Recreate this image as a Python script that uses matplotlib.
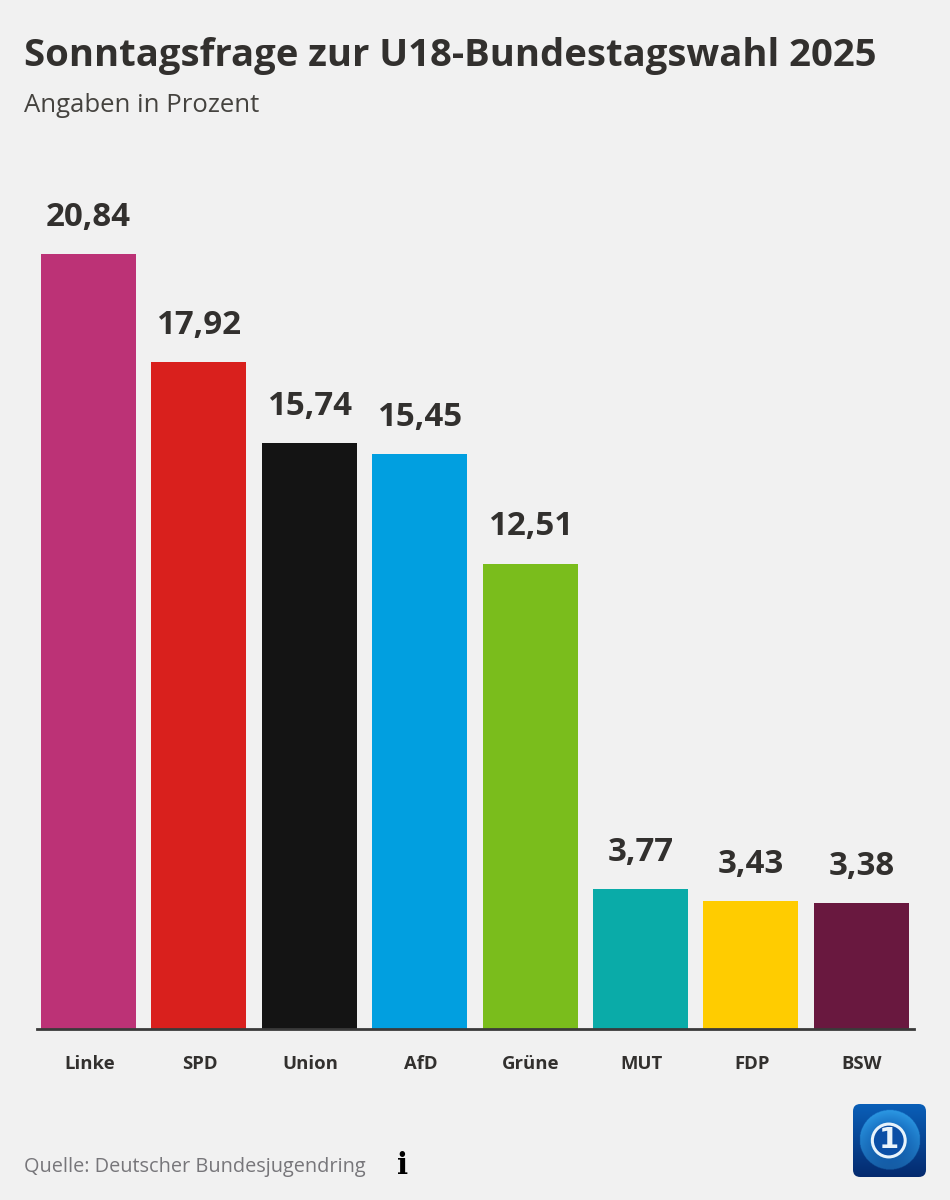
import numpy as np
import matplotlib
matplotlib.use("Agg")
import matplotlib.pyplot as plt
from matplotlib.patches import FancyBboxPatch, Circle

parties = ["Linke", "SPD", "Union", "AfD", "Grüne", "MUT", "FDP", "BSW"]
values = [20.84, 17.92, 15.74, 15.45, 12.51, 3.77, 3.43, 3.38]
labels = ["20,84", "17,92", "15,74", "15,45", "12,51", "3,77", "3,43", "3,38"]
colors = ["#BC3276", "#D9201D", "#141414", "#019FE0", "#7ABD1C", "#0AABA8", "#FFCC00", "#69183F"]

W, H = 950, 1200
BG = "#F1F1F1"
INK = "#32302E"
plt.rcParams["font.family"] = ["Open Sans", "DejaVu Sans"]

fig = plt.figure(figsize=(W / 100, H / 100), dpi=100, facecolor=BG)

def axrect(x0, y0, x1, y1):
    return [x0 / W, 1 - y1 / H, (x1 - x0) / W, (y1 - y0) / H]

ax = fig.add_axes(axrect(37, 200, 914, 1029))
ax.set_facecolor("none")
x = np.arange(len(parties))
step = 110.4
ax.bar(x, values, width=95 / step, color=colors, linewidth=0, zorder=2)
ax.set_xlim(-(88.5 - 37) / step, -(88.5 - 37) / step + (914 - 37) / step)
ax.set_ylim(0, 829 / 37.2)
for s in ["top", "left", "right"]:
    ax.spines[s].set_visible(False)
ax.spines["bottom"].set_color("#3A3A3A")
ax.spines["bottom"].set_linewidth(2)
ax.spines["bottom"].set_zorder(3)
ax.set_yticks([])
ax.set_xticks(x + 0.007)
ax.set_xticklabels(parties, fontsize=13.3, fontweight="bold", color=INK)
ax.tick_params(axis="x", length=0, pad=19)
for xi, v, t in zip(x, values, labels):
    ax.annotate(t, (xi, v), xytext=(0, 14.5), textcoords="offset points", ha="center", va="bottom",
                fontsize=23.8, fontweight="bold", color=INK, annotation_clip=False)

fig.text(24 / W, 1 - 56 / H, "Sonntagsfrage zur U18-Bundestagswahl 2025", fontsize=27.5, fontweight="bold",
         color=INK, ha="left", va="center")
fig.text(24 / W, 1 - 106 / H, "Angaben in Prozent", fontsize=18.5, color="#45433F", ha="left", va="center")
fig.text(24 / W, 1 - 1167 / H, "Quelle: Deutscher Bundesjugendring", fontsize=14.3, color="#77767A",
         ha="left", va="center")
fig.text(403 / W, 1 - 1166 / H, "i", fontsize=21, fontweight="bold", family="DejaVu Serif", color="#000000",
         ha="center", va="center")

# Logo
lg = fig.add_axes(axrect(853, 1104, 926, 1177))
lg.set_xlim(0, 1); lg.set_ylim(0, 1); lg.axis("off")
n = 146
yy, xx = np.mgrid[1:0:n * 1j, 0:1:n * 1j]
c0 = np.array([0x0A, 0x5F, 0xB8]) / 255
c1 = np.array([0x04, 0x2A, 0x6E]) / 255
t = yy[..., None]
bg = c1 * (1 - t) + c0 * t
r = np.hypot(xx - 0.5, yy - 0.51) / 0.41
globe_in = np.array([0x0A, 0x55, 0xB0]) / 255
globe_out = np.array([0x2E, 0x9C, 0xE6]) / 255
rr = np.clip(r, 0, 1)[..., None]
shade = np.clip(0.35 + 0.65 * yy, 0, 1)[..., None]
globe = (globe_in * (1 - rr) + globe_out * rr) * shade + bg * (1 - shade)
img = np.where((r < 1)[..., None], globe, bg)
im = lg.imshow(img, extent=(0, 1, 0, 1), aspect="auto", zorder=1, interpolation="bilinear")
box = FancyBboxPatch((0, 0), 1, 1, boxstyle="round,pad=0,rounding_size=0.1",
                     transform=lg.transData, fc="none", ec="none")
lg.add_patch(box)
im.set_clip_path(box)
lg.add_patch(Circle((0.49, 0.5), 0.225, fc="#0B4FA6", ec="#E8F3FB", lw=2.2, zorder=2))
lg.text(0.485, 0.5, "1", fontsize=21, fontweight="bold", family="DejaVu Sans", color="#EAF4FB",
        ha="center", va="center", zorder=3)

fig.savefig("out.png", dpi=100, facecolor=BG)
